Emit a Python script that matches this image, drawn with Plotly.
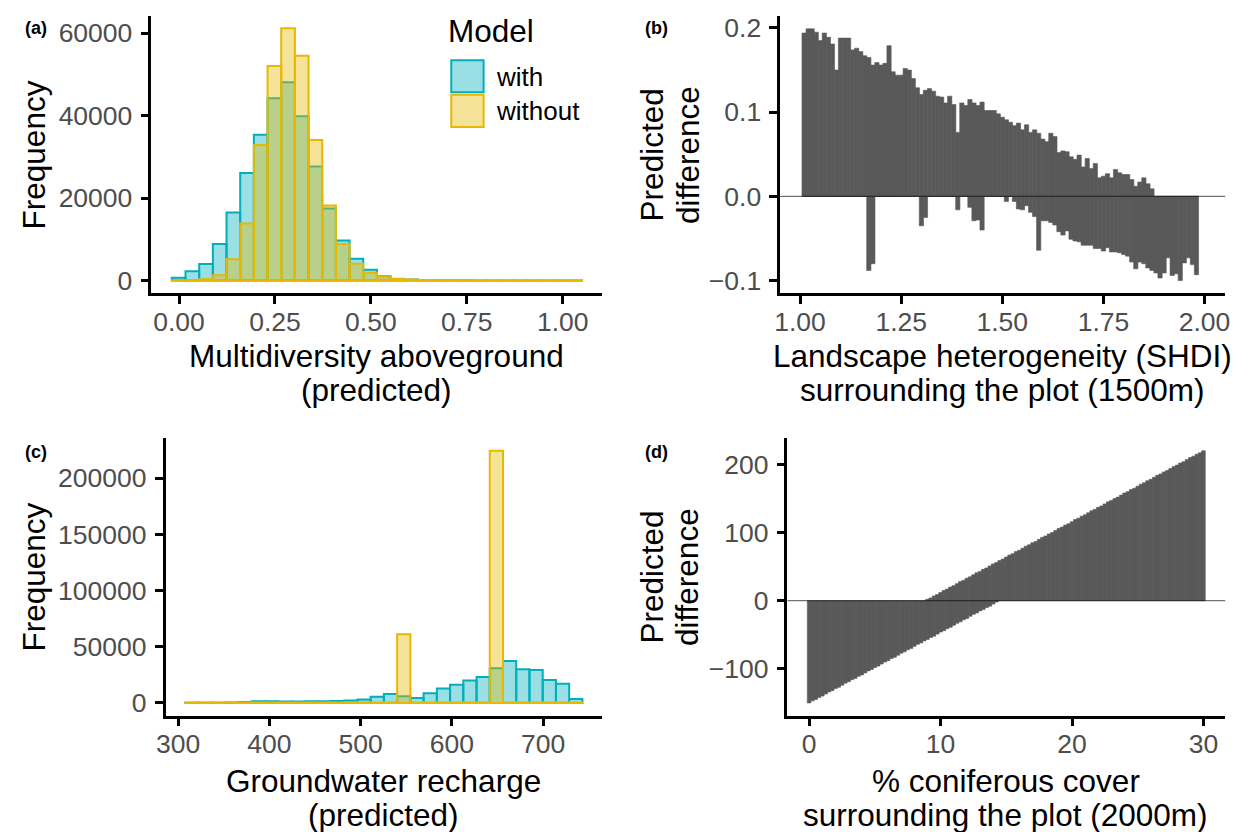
import numpy as np
import plotly.graph_objects as go

W, H = 1245, 832
FONT = "Liberation Sans, Arial, Helvetica, sans-serif"
TEAL, GOLD = "#00AFBB", "#E7B800"
TEAL_FILL, GOLD_FILL = "rgba(0,175,187,0.4)", "rgba(231,184,0,0.4)"
BAR = "#595959"

# ---------------- data ----------------
# (a) Multidiversity aboveground (predicted): 30 bins
a_bin_start = -0.0187
a_bin_width = 0.03563
a_with = [700, 2240, 4000, 8900, 16500, 26070, 35380, 44200, 48100, 39860,
          27680, 17480, 9700, 5300, 2650, 1035, 400, 250, 150, 100,
          80, 60, 50, 40, 30, 30, 20, 20, 15, 10]
a_without = [50, 100, 300, 1280, 5200, 13870, 32880, 52000, 61200, 54540,
             34080, 18200, 8900, 4090, 1930, 960, 480, 240, 150, 100,
             80, 60, 50, 40, 30, 30, 20, 20, 15, 10]

# (b) Predicted difference vs landscape heterogeneity (SHDI)
b_x_start = 1.01
b_x_step = 0.01
b_pos = [0.194, 0.199, 0.199, 0.195, 0.185, 0.194, 0.189, 0.181, 0.150, 0.188,
         0.188, 0.188, 0.174, 0.176, 0.172, 0.167, 0.165, 0.156, 0.159, 0.156,
         0.158, 0.179, 0.148, 0.144, 0.144, 0.152, 0.150, 0.140, 0.129, 0.121,
         0.126, 0.128, 0.125, 0.119, 0.118, 0.111, 0.119, 0.109, 0.076, 0.111,
         0.108, 0.115, 0.111, 0.108, 0.112, 0.102, 0.102, 0.102, 0.098, 0.094,
         0.091, 0.088, 0.084, 0.087, 0.079, 0.085, 0.076, 0.079, 0.075, 0.068,
         0.065, 0.075, 0.071, 0.052, 0.054, 0.053, 0.047, 0.044, 0.049, 0.035,
         0.045, 0.033, 0.039, 0.022, 0.024, 0.027, 0.022, 0.032, 0.028, 0.026,
         0.026, 0.020, 0.012, 0.017, 0.022, 0.015, 0.009, 0, 0, 0,
         0, 0, 0, 0, 0, 0, 0, 0]
b_neg = [0, 0, 0, 0, 0, 0, 0, 0, 0, 0,
         0, 0, 0, 0, 0, 0, -0.088, -0.080, 0, 0,
         0, 0, 0, 0, 0, 0, 0, 0, 0, -0.035,
         -0.025, 0, 0, 0, 0, 0, 0, 0, -0.016, 0,
         0, -0.013, -0.029, -0.028, -0.040, 0, 0, 0, 0, 0,
         -0.006, 0, -0.006, -0.015, -0.016, -0.011, -0.019, -0.024, -0.064, -0.029,
         -0.029, -0.031, -0.034, -0.042, -0.046, -0.041, -0.051, -0.053, -0.054, -0.058,
         -0.058, -0.058, -0.062, -0.062, -0.065, -0.061, -0.066, -0.066, -0.067, -0.069,
         -0.071, -0.078, -0.086, -0.078, -0.080, -0.085, -0.088, -0.091, -0.097, -0.091,
         -0.073, -0.094, -0.092, -0.100, -0.079, -0.073, -0.081, -0.093]

# (c) Groundwater recharge (predicted): 30 bins
c_bin_start = 308.0
c_bin_width = 14.5
c_with = [100, 200, 200, 300, 880, 1470, 1470, 1200, 1200, 1470,
          1470, 1760, 2050, 2930, 5570, 7920, 5870, 4400, 8500, 12900,
          16130, 19950, 23170, 30800, 37250, 29900, 29300, 20500, 17000, 3500]
c_without = [300, 300, 300, 300, 300, 300, 300, 300, 300, 300,
             300, 300, 300, 300, 300, 300, 61000, 300, 300, 300,
             300, 300, 300, 224400, 300, 300, 300, 300, 300, 300]

# (d) Predicted difference vs % coniferous cover
d_step = 0.25
d_pos_start = 9.0
d_pos = [2, 4, 7, 9, 12, 15, 17, 20, 22, 25, 28, 30, 33, 35, 38, 41, 43, 46, 48, 51,
         54, 56, 59, 61, 64, 67, 69, 72, 74, 77, 80, 82, 85, 87, 90, 93, 95, 98, 100, 103,
         106, 108, 111, 113, 116, 119, 121, 124, 126, 129, 132, 134, 137, 139, 142, 145, 147, 150, 152, 155,
         158, 160, 163, 165, 168, 171, 173, 176, 178, 181, 184, 186, 189, 191, 194, 197, 199, 202, 204, 207,
         210, 212, 215, 217, 220]
d_neg_start = 0.0
d_neg = [-150, -147, -145, -142, -140, -137, -134, -132, -129, -127, -124, -121, -119, -116, -114,
         -111, -109, -106, -103, -101, -98, -96, -93, -90, -88, -85, -83, -80, -77, -75,
         -72, -70, -67, -64, -62, -59, -57, -54, -52, -49, -46, -44, -41, -39, -36,
         -33, -31, -28, -26, -23, -20, -18, -15, -13, -10, -8, -5, -2]

# tick labels
a_xticks = [0, 0.25, 0.5, 0.75, 1.0]; a_xtext = ["0.00", "0.25", "0.50", "0.75", "1.00"]
a_yticks = [0, 20000, 40000, 60000]; a_ytext = ["0", "20000", "40000", "60000"]
b_xticks = [1.0, 1.25, 1.5, 1.75, 2.0]; b_xtext = ["1.00", "1.25", "1.50", "1.75", "2.00"]
b_yticks = [-0.1, 0, 0.1, 0.2]; b_ytext = ["\u22120.1", "0.0", "0.1", "0.2"]
c_xticks = [300, 400, 500, 600, 700]; c_xtext = ["300", "400", "500", "600", "700"]
c_yticks = [0, 50000, 100000, 150000, 200000]; c_ytext = ["0", "50000", "100000", "150000", "200000"]
d_xticks = [0, 10, 20, 30]; d_xtext = ["0", "10", "20", "30"]
d_yticks = [-100, 0, 100, 200]; d_ytext = ["\u2212100", "0", "100", "200"]


def centers(start, width, n):
    return start + width * (np.arange(n) + 0.5)


fig = go.Figure()

# (a)
ax = centers(a_bin_start, a_bin_width, len(a_with))
fig.add_trace(go.Bar(x=ax, y=a_with, width=a_bin_width, xaxis="x", yaxis="y",
                     marker=dict(color=TEAL_FILL, line=dict(color=TEAL, width=2)), showlegend=False))
fig.add_trace(go.Bar(x=ax, y=a_without, width=a_bin_width, xaxis="x", yaxis="y",
                     marker=dict(color=GOLD_FILL, line=dict(color=GOLD, width=2)), showlegend=False))

# (b) (bars drawn slightly overlapping to avoid anti-aliasing seams)
bx = np.round(b_x_start + b_x_step * np.arange(len(b_pos)), 4)
solid = dict(color=BAR, line=dict(color=BAR, width=0.6))
fig.add_trace(go.Bar(x=bx, y=b_pos, width=b_x_step * 1.05, xaxis="x2", yaxis="y2",
                     marker=solid, showlegend=False))
fig.add_trace(go.Bar(x=bx, y=b_neg, width=b_x_step * 1.05, xaxis="x2", yaxis="y2",
                     marker=solid, showlegend=False))

# (c)
cx = centers(c_bin_start, c_bin_width, len(c_with))
fig.add_trace(go.Bar(x=cx, y=c_with, width=c_bin_width, xaxis="x3", yaxis="y3",
                     marker=dict(color=TEAL_FILL, line=dict(color=TEAL, width=2)), showlegend=False))
fig.add_trace(go.Bar(x=cx, y=c_without, width=c_bin_width, xaxis="x3", yaxis="y3",
                     marker=dict(color=GOLD_FILL, line=dict(color=GOLD, width=2)), showlegend=False))

# (d)
dpx = d_pos_start + d_step * np.arange(len(d_pos))
dnx = d_neg_start + d_step * np.arange(len(d_neg))
fig.add_trace(go.Bar(x=dpx, y=d_pos, width=d_step * 1.1, xaxis="x4", yaxis="y4",
                     marker=solid, showlegend=False))
fig.add_trace(go.Bar(x=dnx, y=d_neg, width=d_step * 1.1, xaxis="x4", yaxis="y4",
                     marker=solid, showlegend=False))


def px_x(p):
    return p / W


def px_y(p):
    return 1 - p / H


axstyle = dict(showline=True, linecolor="black", linewidth=2.5, ticks="outside", ticklen=8,
               tickwidth=2.5, tickcolor="black", showgrid=False, zeroline=False,
               tickfont=dict(family=FONT, size=26.5, color="#4d4d4d"), fixedrange=True,
               tickmode="array")
xstyle = dict(axstyle, ticklabelstandoff=-5)
ystyle = dict(axstyle, ticklabelstandoff=3)

top_dom = [px_y(292.3), px_y(13.3)]
bot_dom = [px_y(717.7), px_y(438.3)]

fig.update_layout(
    width=W, height=H, margin=dict(l=0, r=0, t=0, b=0),
    paper_bgcolor="white", plot_bgcolor="white", barmode="overlay",
    font=dict(family=FONT),
    xaxis=dict(domain=[px_x(144), px_x(600)], anchor="y", range=[-0.072, 1.103],
               tickvals=a_xticks, ticktext=a_xtext, **xstyle),
    yaxis=dict(domain=top_dom, anchor="x", range=[-3050, 64100],
               tickvals=a_yticks, ticktext=a_ytext, **ystyle),
    xaxis2=dict(domain=[px_x(780), px_x(1230)], anchor="y2", range=[0.951, 2.051],
                tickvals=b_xticks, ticktext=b_xtext, **xstyle),
    yaxis2=dict(domain=top_dom, anchor="x2", range=[-0.115, 0.214],
                tickvals=b_yticks, ticktext=b_ytext, **ystyle),
    xaxis3=dict(domain=[px_x(158.3), px_x(600)], anchor="y3", range=[286.25, 764.75],
                tickvals=c_xticks, ticktext=c_xtext, **xstyle),
    yaxis3=dict(domain=bot_dom, anchor="x3", range=[-11220, 235620],
                tickvals=c_yticks, ticktext=c_ytext, **ystyle),
    xaxis4=dict(domain=[px_x(787.3), px_x(1230)], anchor="y4", range=[-1.65, 31.65],
                tickvals=d_xticks, ticktext=d_xtext, **xstyle),
    yaxis4=dict(domain=bot_dom, anchor="x4", range=[-168.5, 238.5],
                tickvals=d_yticks, ticktext=d_ytext, **ystyle),
)

shapes = []
# zero reference lines in (b) and (d)
for xr, yr in [("x2 domain", "y2"), ("x4 domain", "y4")]:
    shapes.append(dict(type="line", xref=xr, yref=yr, x0=0, x1=1, y0=0, y1=0,
                       line=dict(color="rgba(0,0,0,0.55)", width=1.3), layer="above"))
# legend keys (panel a)
shapes.append(dict(type="rect", xref="paper", yref="paper",
                   x0=px_x(447.3), x1=px_x(480), y0=px_y(90), y1=px_y(57.7),
                   fillcolor=TEAL_FILL, line=dict(color=TEAL, width=2)))
shapes.append(dict(type="rect", xref="paper", yref="paper",
                   x0=px_x(447.3), x1=px_x(480), y0=px_y(125), y1=px_y(92.3),
                   fillcolor=GOLD_FILL, line=dict(color=GOLD, width=2)))
fig.update_layout(shapes=shapes)

ann = []


def text(t, x, y, size=31.5, angle=0, xanchor="center", color="black"):
    ann.append(dict(text=t, x=px_x(x), y=px_y(y), xref="paper", yref="paper",
                    showarrow=False, textangle=angle, xanchor=xanchor, yanchor="middle",
                    font=dict(family=FONT, size=size, color=color)))


# axis titles
text("Frequency", 25, 152.8, angle=-90)
text("Multidiversity aboveground", 372, 356)
text("(predicted)", 372, 390)
text("Predicted", 650, 152.8, angle=-90)
text("difference", 686, 152.8, angle=-90)
text("Landscape heterogeneity (SHDI)", 1005, 356)
text("surrounding the plot (1500m)", 1005, 390)
text("Frequency", 25, 578, angle=-90)
text("Groundwater recharge", 379, 784)
text("(predicted)", 379, 818)
text("Predicted", 650, 578, angle=-90)
text("difference", 686, 578, angle=-90)
text("% coniferous cover", 1008, 784)
text("surrounding the plot (2000m)", 1008, 818)
# panel tags
text("<b>(a)</b>", 27, 25, size=18)
text("<b>(b)</b>", 655, 25, size=18)
text("<b>(c)</b>", 27, 452, size=18)
text("<b>(d)</b>", 655, 452, size=18)
# legend
text("Model", 442, 28, size=31.5, xanchor="left")
text("with", 491, 75, size=26, xanchor="left")
text("without", 491, 109, size=26, xanchor="left")
fig.update_layout(annotations=ann)

fig.write_html("out.html", config={"displayModeBar": False},
               post_script="document.body.style.margin='0';document.body.style.padding='0';")
